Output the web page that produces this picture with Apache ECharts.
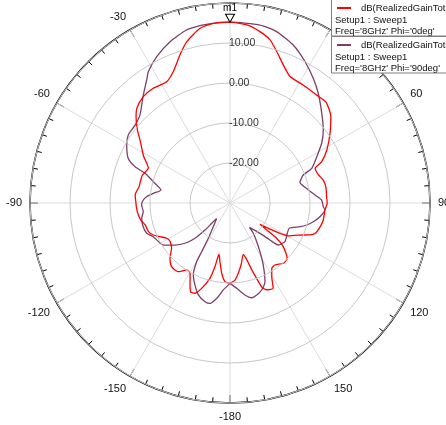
<!DOCTYPE html>
<html><head><meta charset="utf-8">
<script src="https://cdn.jsdelivr.net/npm/echarts@6/dist/echarts.min.js"></script>
<style>html,body{margin:0;padding:0;background:#fff}#c{width:446px;height:425px}</style>
</head><body><div id="c"></div>
<script>
// Phi = 0deg (red)
const phi0Angles = [-180,-176.4,-173.3,-170.3,-167.9,-166.7,-165.1,-161.6,-158.8,-156.1,-153.5,-150.4,-147.1,-143,-137.5,-132.7,-127.8,-122.8,-119.1,-115.7,-112.6,-109.4,-104.5,-100.8,-97.5,-93.3,-88.2,-85.2,-79.8,-72.6,-66.8,-61.5,-55.7,-51.7,-47.5,-44.4,-39.2,-33.8,-27.6,-23.4,-18.7,-15,-9.7,-5.3,0,5.4,9.9,13.8,17.2,21.1,25.4,31.8,38.8,43.7,49.4,55.1,61.3,65.8,67.8,72.4,76.2,80.4,86.3,90.2,94.2,100.3,104.8,109.6,111.8,115.1,118.8,125.4,126.3,127.1,129.3,134,138.5,144,147.4,150.5,153.1,157.1,159.3,161.7,165.5,169.5,173.3,176.5,180];
const phi0Gain = [-9.9,-10.3,-12.3,-15.1,-16.9,-13.6,-10.5,-7.5,-5.8,-5.7,-7.6,-9.8,-10.1,-8.5,-8.4,-9.6,-11.5,-12.2,-11.9,-10.6,-9.2,-8.4,-8.1,-7.3,-6.9,-6.6,-6.4,-6.2,-6.9,-7.0,-7.8,-5.4,-2.9,-0.5,1.85,3.25,4.3,4.5,4.2,5.75,9.05,11.75,14.3,15.1,15.2,14.7,13.5,12.0,9.6,7.0,5.0,4.7,4.6,4.8,3.2,0.5,-2.4,-4.9,-7.0,-6.8,-6.0,-5.7,-5.8,-5.7,-6.2,-6.3,-6.7,-7.4,-8.5,-11.1,-12.9,-20.8,-18.6,-15.4,-12.8,-10.1,-9.9,-10.85,-10.6,-8.8,-6.1,-6.4,-7.6,-12.0,-16.7,-14.5,-12.3,-10.6,-9.9];
// Phi = 90deg (purple)
const phi90Angles = [-180,-175.6,-172.1,-168.7,-165.8,-161,-156.9,-153,-150.4,-149.8,-148.4,-144.8,-139,-138,-137.2,-135.2,-131.8,-127.4,-122.2,-113.7,-110,-105.3,-99.8,-95.7,-91.3,-88,-85.7,-82.8,-79.3,-74.5,-70.7,-69.1,-66.3,-60.7,-56.2,-50.6,-45.6,-38.8,-34.1,-31.9,-26.6,-20.4,-14.1,-8.5,0,9.6,15.2,21.8,28,33.7,38.8,45.6,52,56.9,61.9,67,69.1,73.7,79.2,84.6,88.1,92.3,94.2,98.7,102.7,106,108.7,113.1,117.9,125.1,131,132.8,135.3,141.5,142.4,145.4,148.4,151.8,156,160,163.8,167.1,170.7,175.5,180];
const phi90Gain = [-9.9,-8.2,-5.95,-4.4,-4.55,-5.7,-7.7,-9.8,-13.1,-15.9,-19.6,-22.75,-24.9,-23.2,-20.8,-17.6,-14.9,-12.7,-10.3,-9.05,-7.85,-7.5,-7.6,-8.2,-7.9,-8.3,-9.1,-10.7,-12.45,-10.1,-7.5,-4.6,-2.2,-0.4,0.6,0.7,1.5,4.6,7.15,8.65,10.9,13.0,14.6,15.0,15.2,15.1,14.4,12.55,10.0,7.5,5.2,2.1,-0.4,-2.65,-5.4,-7.8,-10.4,-11.8,-10.5,-8.65,-7.1,-6.65,-6.2,-7.25,-8.65,-10.05,-11.5,-13.9,-13.8,-13.2,-14.0,-16.4,-19.3,-22.2,-20.45,-18.25,-15.7,-12.4,-8.5,-6.85,-6.05,-5.7,-6.7,-8.6,-9.9];
const radiusMin = -30, radiusMax = 20, radiusStep = 10;
const angleStep = 30;
const markerName = 'm1';
const markerAngle = 0, markerGain = 15.2;
const seriesNames = ["dB(RealizedGainTot Phi='0deg'", "dB(RealizedGainTot Phi='90deg'"];
const legendTitle = 'dB(RealizedGainTot';
const legendSetup = 'Setup1 : Sweep1';
const legendFreq = ["Freq='8GHz' Phi='0deg'", "Freq='8GHz' Phi='90deg'"];
const colors = ['#ff0000', '#7d3f6a'];

const FONT = '"Liberation Sans", Arial, sans-serif';
const chart = echarts.init(document.getElementById('c'));

function legendGroup(i, top) {
  return [
    {type:'rect', z:100, shape:{x:331.5, y:top, width:120, height:36.5}, style:{fill:'#fff', stroke:'#808080', lineWidth:1}},
    {type:'line', z:101, shape:{x1:337, y1:top+8.5, x2:351, y2:top+8.5}, style:{stroke:colors[i], lineWidth:2}},
    {type:'text', z:101, style:{text:legendTitle, x:361, y:top+8.5, verticalAlign:'middle', font:'9.5px ' + FONT, fill:'#111'}},
    {type:'text', z:101, style:{text:legendSetup, x:335, y:top+20.5, verticalAlign:'middle', font:'9.5px ' + FONT, fill:'#111'}},
    {type:'text', z:101, style:{text:legendFreq[i], x:335, y:top+32, verticalAlign:'middle', font:'9.5px ' + FONT, fill:'#111'}}
  ];
}

chart.setOption({
  animation: false,
  backgroundColor: '#fff',
  polar: { center: [230, 203], radius: 200 },
  angleAxis: {
    type: 'value', min: 0, max: 360, interval: angleStep,
    startAngle: 90, clockwise: true,
    axisLine: { lineStyle: { color: '#000', width: 1.5 } },
    axisTick: { show: true, inside: true, length: 8, lineStyle: { color: '#000', width: 1 } },
    minorTick: { show: true, splitNumber: 6, length: 5, lineStyle: { color: '#000', width: 1 } },
    splitLine: { show: true, lineStyle: { color: '#dcdcdc', width: 1 } },
    axisLabel: {
      margin: 8, color: '#111', fontSize: 11, fontFamily: FONT,
      formatter: v => (v === 0 || v === 360) ? '' : String(v >= 180 ? v - 360 : v)
    }
  },
  radiusAxis: {
    type: 'value', min: radiusMin, max: radiusMax, interval: radiusStep,
    axisLine: { show: false }, axisTick: { show: false },
    splitLine: { show: true, lineStyle: { color: '#c8c8c8', width: 1 } },
    axisLabel: {
      margin: 1, align: 'left', verticalAlign: 'middle', padding: [0, 0, 5, 0], color: '#333', fontSize: 10.5, fontFamily: FONT,
      formatter: v => (v <= radiusMin || v >= radiusMax) ? '' : v.toFixed(2)
    },
    z: 5
  },
  series: [
    {
      name: seriesNames[0], type: 'line', coordinateSystem: 'polar', showSymbol: false, clip: false, smooth: 0.2,
      lineStyle: { color: colors[0], width: 1.3 }, itemStyle: { color: colors[0] },
      data: phi0Angles.map((a, i) => [phi0Gain[i], a]),
      z: 3
    },
    {
      name: seriesNames[1], type: 'line', coordinateSystem: 'polar', showSymbol: false, clip: false, smooth: 0.2,
      lineStyle: { color: colors[1], width: 1.3 }, itemStyle: { color: colors[1] },
      data: phi90Angles.map((a, i) => [phi90Gain[i], a]),
      z: 2,
      markPoint: {
        symbol: 'triangle', symbolRotate: 180, symbolSize: [9, 8], symbolOffset: [0, -4],
        itemStyle: { color: '#fff', borderColor: '#000', borderWidth: 1 },
        label: { show: true, position: 'top', distance: 0, formatter: markerName, color: '#000', fontSize: 10, fontFamily: FONT },
        data: [{ coord: [markerGain, markerAngle] }]
      }
    }
  ],
  graphic: [].concat(legendGroup(0, -0.5), legendGroup(1, 36.5))
});
</script>
</body></html>
